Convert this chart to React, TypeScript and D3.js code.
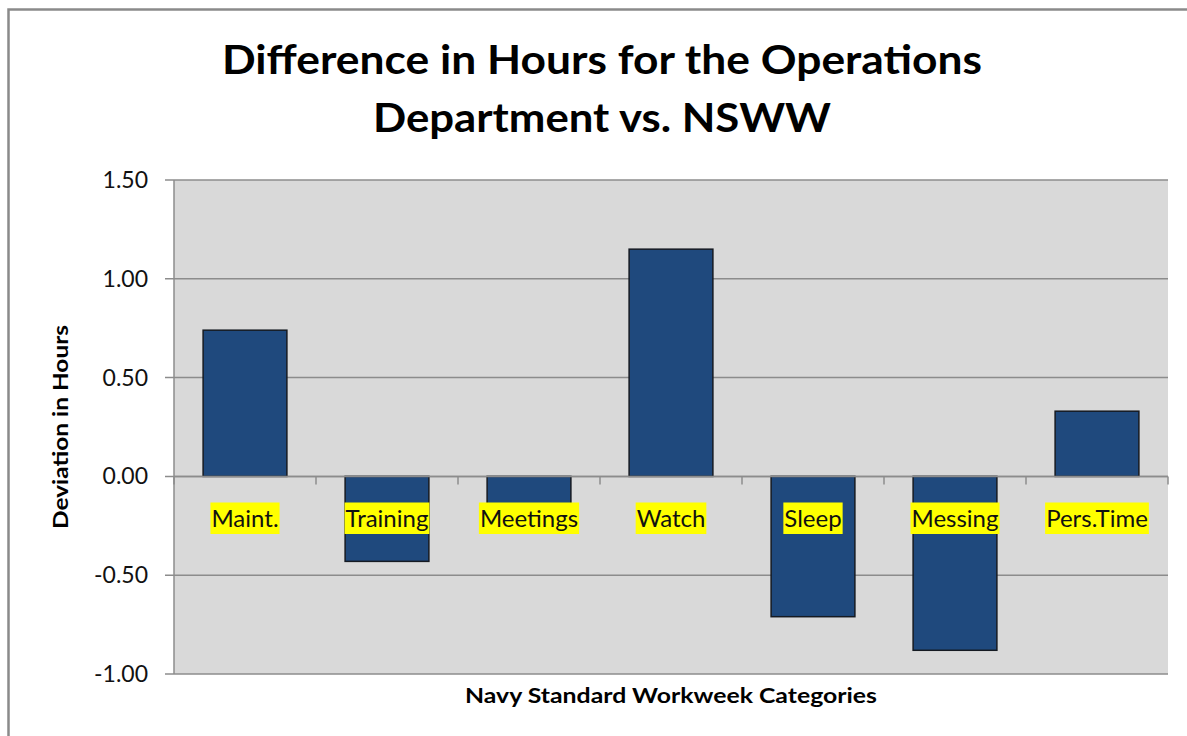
import React, { useRef, useEffect } from 'react';
import * as d3 from 'd3';

// NSWW categories and deviation in hours
const categories = ['Maint.', 'Training', 'Meetings', 'Watch', 'Sleep', 'Messing', 'Pers.Time'];
const deviations = [0.74, -0.43, -0.2, 1.15, -0.71, -0.88, 0.33];
const yTicks = [1.5, 1.0, 0.5, 0.0, -0.5, -1.0];

const titleLines = ['Difference in Hours for the Operations', 'Department vs. NSWW'];
const yTitle = 'Deviation in Hours';
const xTitle = 'Navy Standard  Workweek Categories';

const W = 1187;
const H = 736;

const App = () => {
  const ref = useRef<SVGSVGElement>(null);

  useEffect(() => {
    const margin = { top: 180, right: 19, bottom: 62, left: 174 };
    const font = 'Lato, "Open Sans", sans-serif';

    const svg = d3.select(ref.current).attr('viewBox', [0, 0, W, H]);
    svg.selectAll('*').remove();

    svg.append('rect').attr('width', W).attr('height', H).attr('fill', '#fff');

    // outer chart frame (runs off the right and bottom edges)
    svg.append('rect')
      .attr('x', 8.5).attr('y', 9.5)
      .attr('width', W + 20).attr('height', H + 20)
      .attr('fill', 'none')
      .attr('stroke', '#8a8a8a')
      .attr('stroke-width', 2.5);

    const x = d3.scaleBand<string>()
      .domain(categories)
      .range([margin.left, W - margin.right])
      .padding(0);

    const y = d3.scaleLinear()
      .domain([-1, 1.5])
      .range([H - margin.bottom, margin.top]);

    // plot area
    svg.append('rect')
      .attr('x', x.range()[0]).attr('y', y(1.5))
      .attr('width', x.range()[1] - x.range()[0])
      .attr('height', y(-1) - y(1.5))
      .attr('fill', '#d9d9d9');

    // gridlines + left ticks
    const grid = svg.append('g');
    grid.selectAll('line.grid')
      .data(yTicks)
      .join('line')
      .attr('class', 'grid')
      .attr('x1', margin.left - 9)
      .attr('x2', W - margin.right)
      .attr('y1', d => y(d)).attr('y2', d => y(d))
      .attr('stroke', '#8c8c8c')
      .attr('stroke-width', 1.5);

    grid.append('line')
      .attr('x1', margin.left).attr('x2', margin.left)
      .attr('y1', y(1.5)).attr('y2', y(-1))
      .attr('stroke', '#8c8c8c')
      .attr('stroke-width', 1.5);

    svg.append('g')
      .selectAll('text')
      .data(yTicks)
      .join('text')
      .attr('x', 148)
      .attr('y', d => y(d) + 8)
      .attr('text-anchor', 'end')
      .attr('font-family', font)
      .attr('font-size', 23)
      .attr('fill', '#111')
      .text(d => d.toFixed(2));

    // bars
    const bw = x.bandwidth() * 0.59;
    svg.append('g')
      .selectAll('rect')
      .data(deviations)
      .join('rect')
      .attr('x', (d, i) => x(categories[i])! + (x.bandwidth() - bw) / 2)
      .attr('y', d => y(Math.max(0, d)))
      .attr('width', bw)
      .attr('height', d => Math.abs(y(d) - y(0)))
      .attr('fill', '#1f497d')
      .attr('stroke', '#151a22')
      .attr('stroke-width', 1.5);

    // category axis at zero
    const zero = y(0);
    svg.append('line')
      .attr('x1', x.range()[0]).attr('x2', x.range()[1])
      .attr('y1', zero).attr('y2', zero)
      .attr('stroke', '#8c8c8c').attr('stroke-width', 1.5);
    const bounds = [...categories.map(c => x(c)!), x.range()[1]];
    svg.append('g')
      .selectAll('line')
      .data(bounds)
      .join('line')
      .attr('x1', d => d).attr('x2', d => d)
      .attr('y1', zero).attr('y2', zero + 8)
      .attr('stroke', '#8c8c8c').attr('stroke-width', 1.5);

    // highlighted category labels
    const lab = svg.append('g')
      .selectAll('g')
      .data(categories)
      .join('g');
    lab.append('rect').attr('fill', '#ffff00');
    lab.append('text')
      .attr('x', d => x(d)! + x.bandwidth() / 2)
      .attr('y', 527)
      .attr('text-anchor', 'middle')
      .attr('font-family', font)
      .attr('font-size', 24)
      .attr('fill', '#111')
      .text(d => d);
    lab.each(function () {
      const g = d3.select(this);
      const bb = (g.select('text').node() as SVGTextElement).getBBox();
      g.select('rect')
        .attr('x', bb.x - 1).attr('y', 502.5)
        .attr('width', bb.width + 2).attr('height', 31.5);
    });

    // titles
    svg.append('g')
      .selectAll('text')
      .data(titleLines)
      .join('text')
      .attr('x', 602)
      .attr('y', (d, i) => 74 + i * 57.5)
      .attr('text-anchor', 'middle')
      .attr('font-family', font)
      .attr('font-weight', 700)
      .attr('font-size', 40)
      .attr('fill', '#000')
      .attr('textLength', (d, i) => (i === 0 ? 760 : 458))
      .attr('lengthAdjust', 'spacingAndGlyphs')
      .text(d => d);

    svg.append('text')
      .attr('transform', `translate(68,${(y(1.5) + y(-1)) / 2}) rotate(-90)`)
      .attr('text-anchor', 'middle')
      .attr('font-family', font)
      .attr('font-weight', 700)
      .attr('font-size', 20)
      .attr('fill', '#000')
      .attr('textLength', 204)
      .attr('lengthAdjust', 'spacingAndGlyphs')
      .text(yTitle);

    svg.append('text')
      .attr('x', 671)
      .attr('y', 703)
      .attr('text-anchor', 'middle')
      .attr('font-family', font)
      .attr('font-weight', 700)
      .attr('font-size', 20)
      .attr('fill', '#000')
      .attr('textLength', 412)
      .attr('lengthAdjust', 'spacingAndGlyphs')
      .text(xTitle);
  }, []);

  return (
    <svg
      ref={ref}
      width={W}
      height={H}
      style={{ position: 'absolute', left: 0, top: 0, display: 'block' }}
    />
  );
};

export default App;
